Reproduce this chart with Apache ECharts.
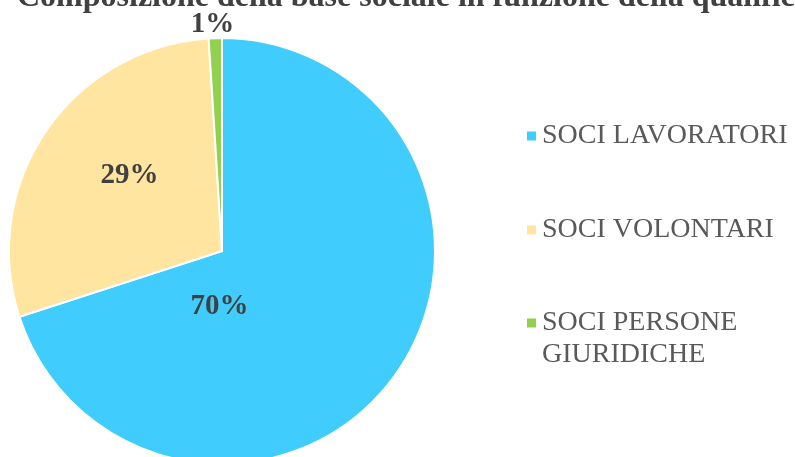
<!DOCTYPE html>
<html>
<head>
<meta charset="utf-8">
<script src="https://cdn.jsdelivr.net/npm/echarts@6/dist/echarts.min.js"></script>
<style>
  html, body { margin: 0; padding: 0; background: #fff; }
  #chart { width: 795px; height: 457px; }
</style>
</head>
<body>
<div id="chart"></div>
<script>
const chart = echarts.init(document.getElementById('chart'));

// dati
const categorie = ['SOCI LAVORATORI', 'SOCI VOLONTARI', 'SOCI PERSONE GIURIDICHE'];
const valori = [70, 29, 1];
const colori = ['#40CDFE', '#FFE5A0', '#92D050'];

// spostamento etichette (dx, dy) per fetta
const spostamenti = [[-91, -9], [-2, -14], [-6, -117]];

const font = '"Liberation Serif", "Times New Roman", serif';

chart.setOption({
  title: {
    text: 'Composizione della base sociale in funzione della qualifica',
    left: 12,
    top: -23,
    textStyle: {
      fontFamily: font,
      fontSize: 32,
      fontWeight: 'bold',
      color: '#404040'
    }
  },
  legend: [
    {
      orient: 'vertical',
      left: 520,
      top: 115,
      itemWidth: 11,
      itemHeight: 11,
      itemGap: 62,
      icon: 'rect',
      data: categorie.slice(0, 2),
      textStyle: { fontFamily: font, fontSize: 28, color: '#595959', lineHeight: 32 }
    },
    {
      orient: 'vertical',
      left: 520,
      top: 270,
      itemWidth: 11,
      itemHeight: 11,
      icon: 'rect',
      data: categorie.slice(2),
      // riga vuota sopra per allineare il quadratino alla prima riga
      formatter: function (name) {
        return '\nSOCI PERSONE\nGIURIDICHE';
      },
      textStyle: { fontFamily: font, fontSize: 28, color: '#595959', lineHeight: 32 }
    }
  ],
  series: [
    {
      type: 'pie',
      center: [222, 251],
      radius: 213,
      startAngle: 90,
      clockwise: true,
      animation: false,
      itemStyle: {
        borderColor: '#fff',
        borderWidth: 2
      },
      label: {
        show: true,
        position: 'inside',
        formatter: '{d}%',
        fontFamily: font,
        fontSize: 29,
        fontWeight: 'bold',
        color: '#404040'
      },
      labelLine: { show: false },
      labelLayout: function (params) {
        const s = spostamenti[params.dataIndex];
        return { dx: s[0], dy: s[1] };
      },
      data: categorie.map(function (c, i) {
        return { name: c, value: valori[i], itemStyle: { color: colori[i] } };
      })
    }
  ]
});
</script>
</body>
</html>
